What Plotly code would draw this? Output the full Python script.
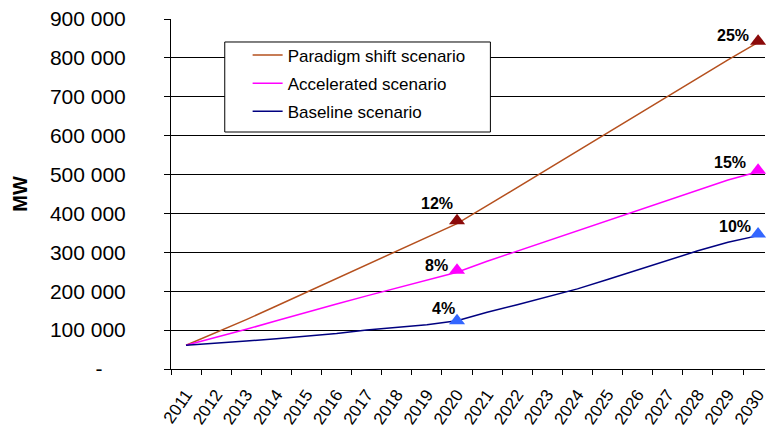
import plotly.graph_objects as go

# Installed capacity projections (MW), 2011-2030
years = [str(y) for y in range(2011, 2031)]

paradigm = [61000, 93000, 127000, 162000, 197000, 232000, 268000, 303000, 338000, 374000,
            420000, 467000, 514000, 561000, 608000, 655000, 702000, 748000, 795000, 840000]
accelerated = [61000, 81000, 102000, 124000, 146000, 167000, 188000, 208000, 228000, 249000,
               277000, 303000, 329000, 356000, 381000, 408000, 435000, 460000, 486000, 507000]
baseline = [61000, 66000, 72000, 78000, 84000, 91000, 100000, 107000, 114000, 124000,
            146000, 165000, 185000, 206000, 230000, 255000, 279000, 304000, 326000, 343000]

# Milestone markers and their share labels
milestone_years = ["2020", "2030"]
paradigm_marks = [381000, 843000]
accelerated_marks = [254000, 511000]
baseline_marks = [124000, 347000]
paradigm_shares = ["12%", "25%"]
accelerated_shares = ["8%", "15%"]
baseline_shares = ["4%", "10%"]

y_ticks = [0, 100000, 200000, 300000, 400000, 500000, 600000, 700000, 800000, 900000]
y_ticktext = ["-\u00a0\u00a0\u00a0\u00a0"] + [f"{v:,}".replace(",", " ") for v in y_ticks[1:]]

FONT = "Liberation Sans, Arial, sans-serif"

series = [
    ("Paradigm shift scenario", paradigm, paradigm_marks, paradigm_shares, "#B5501E", "#8B0A0A",
     [(-20, 17), (-25, 6)]),
    ("Accelerated scenario", accelerated, accelerated_marks, accelerated_shares, "#FF00FF", "#FF00FF",
     [(-21, 5), (-28, 8)]),
    ("Baseline scenario", baseline, baseline_marks, baseline_shares, "#000080", "#3366FF",
     [(-14, 12), (-23, 8)]),
]

fig = go.Figure()
annotations = []
for i, (name, vals, marks, shares, line_color, mark_color, label_shift) in enumerate(series):
    fig.add_trace(go.Scatter(
        x=years, y=vals, mode="lines", name=name, legendgroup=f"g{i}",
        line=dict(color=line_color, width=1.5),
    ))
    fig.add_trace(go.Scatter(
        x=milestone_years, y=marks, mode="markers", showlegend=False, legendgroup=f"g{i}",
        marker=dict(symbol="triangle-up", size=14, color=mark_color),
        cliponaxis=False,
    ))
    for yr, v, txt, (dx, dy) in zip(milestone_years, marks, shares, label_shift):
        # category axes place annotations by category index
        annotations.append(dict(
            x=years.index(yr), y=v, xref="x", yref="y", text=f"<b>{txt}</b>", showarrow=False,
            xanchor="center", yanchor="middle", xshift=dx, yshift=dy,
            font=dict(family=FONT, size=16, color="black"),
        ))

fig.update_layout(
    width=768, height=429, autosize=False,
    margin=dict(l=171, r=0, t=19, b=60),
    paper_bgcolor="white", plot_bgcolor="white",
    font=dict(family=FONT, color="black"),
    showlegend=True,
    legend=dict(
        x=0.129, y=0.947, xanchor="left", yanchor="top",
        bgcolor="rgba(0,0,0,0)", borderwidth=0,
        traceorder="grouped", tracegroupgap=3,
        font=dict(family=FONT, size=17, color="black"),
    ),
    shapes=[dict(
        type="rect", xref="paper", yref="paper",
        x0=0.0905, x1=0.5377, y0=0.6771, y1=0.9343,
        line=dict(color="black", width=1), fillcolor="white", layer="above",
    )],
    annotations=annotations,
)

fig.update_xaxes(
    type="category", categoryorder="array", categoryarray=years,
    range=[-0.5, 19.23], tickson="boundaries",
    ticks="outside", ticklen=5, tickcolor="black",
    showline=True, linecolor="black", linewidth=1,
    showgrid=False, zeroline=False,
    tickangle=-55, ticklabelstandoff=8,
    tickfont=dict(family=FONT, size=17, color="black"),
)

fig.update_yaxes(
    range=[0, 900000], tickvals=y_ticks, ticktext=y_ticktext,
    ticks="outside", ticklen=6, tickcolor="black",
    showline=True, linecolor="black", linewidth=1,
    showgrid=True, gridcolor="black", gridwidth=1, zeroline=False,
    ticklabelstandoff=34,
    tickfont=dict(family=FONT, size=21, color="black"),
    title=dict(text="<b>MW</b>", font=dict(family=FONT, size=20, color="black"), standoff=16),
)

fig.write_html("out.html")
